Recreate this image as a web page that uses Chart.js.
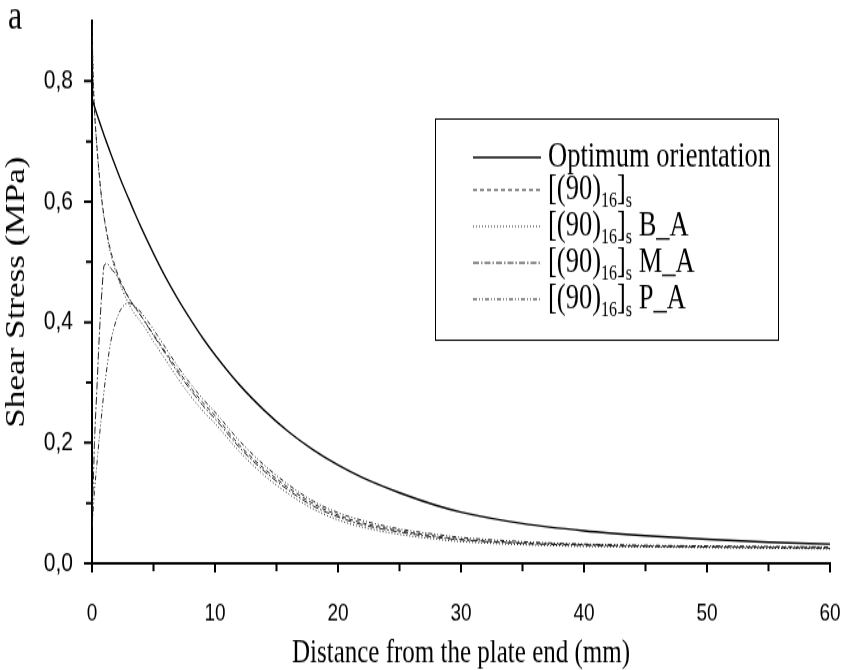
<!DOCTYPE html>
<html>
<head>
<meta charset="utf-8">
<script src="https://cdn.jsdelivr.net/npm/chart.js@4.4.1/dist/chart.umd.min.js"></script>
<style>
  body { margin: 0; background: #fff; }
</style>
</head>
<body>
<!-- the reference is stretched vertically, so the canvas is drawn at 846x515 and shown at 846x670 -->
<canvas id="grafico" width="846" height="515" style="display:block;width:846px;height:670px"></canvas>
<script>
// distancia a partir da extremidade da placa (mm)
const distance = [0, 0.1, 0.2, 0.4, 0.6, 0.8, 1, 1.25, 1.5, 2, 2.5, 3, 3.5, 4, 5, 6, 7, 8, 9, 10,
  12, 14, 16, 18, 20, 22, 25, 28, 30, 35, 40, 45, 50, 55, 60];

// tensao de corte (MPa)
const optimum = [0.77, 0.764, 0.758, 0.745, 0.733, 0.721, 0.709, 0.695, 0.681, 0.654, 0.628, 0.604, 0.58, 0.557, 0.514, 0.474, 0.438, 0.405, 0.374, 0.346,
  0.296, 0.254, 0.218, 0.188, 0.163, 0.142, 0.117, 0.096, 0.085, 0.066, 0.054, 0.046, 0.04, 0.035, 0.032];
const lam90 = [0.89, 0.8, 0.752, 0.692, 0.643, 0.603, 0.573, 0.544, 0.52, 0.485, 0.46, 0.44, 0.425, 0.41, 0.38, 0.35, 0.32, 0.292, 0.267, 0.245,
  0.196, 0.157, 0.125, 0.099, 0.08, 0.067, 0.054, 0.045, 0.04, 0.034, 0.031, 0.029, 0.028, 0.027, 0.026];
const lam90BA = [0.9, 0.81, 0.755, 0.69, 0.64, 0.6, 0.57, 0.54, 0.515, 0.48, 0.452, 0.43, 0.413, 0.4, 0.368, 0.337, 0.306, 0.278, 0.253, 0.232,
  0.185, 0.146, 0.115, 0.09, 0.072, 0.06, 0.048, 0.04, 0.036, 0.031, 0.028, 0.027, 0.026, 0.025, 0.024];
const lam90MA = [0.09, 0.13, 0.2, 0.29, 0.38, 0.45, 0.495, 0.497, 0.49, 0.478, 0.458, 0.44, 0.424, 0.41, 0.378, 0.347, 0.316, 0.288, 0.262, 0.24,
  0.192, 0.153, 0.121, 0.095, 0.077, 0.064, 0.052, 0.043, 0.039, 0.033, 0.03, 0.028, 0.027, 0.026, 0.025];
const lam90PA = [0.06, 0.09, 0.12, 0.165, 0.21, 0.25, 0.29, 0.33, 0.365, 0.405, 0.426, 0.432, 0.426, 0.416, 0.388, 0.357, 0.326, 0.298, 0.273, 0.251,
  0.203, 0.163, 0.13, 0.103, 0.084, 0.071, 0.057, 0.048, 0.043, 0.036, 0.032, 0.03, 0.029, 0.028, 0.027];

// marcas dos eixos
const xTickLabels = [0, 10, 20, 30, 40, 50, 60];
const xMinorTicks = [5, 15, 25, 35, 45, 55];
const yTickLabels = [0, 0.2, 0.4, 0.6, 0.8];
const yMinorTicks = [0.1, 0.3, 0.5, 0.7];

// legenda
const legendSuffix = ['Optimum orientation', '', ' B_A', ' M_A', ' P_A'];
const dashes = [[], [4, 3], [1, 2], [6, 2, 1.5, 2], [4, 2, 1, 2, 1, 2]];

const serif = '"Liberation Serif", "Times New Roman", serif';
const sans = '"Liberation Sans", Arial, sans-serif';

function points(values) {
  return distance.map((x, i) => ({ x: x, y: values[i] }));
}

function makeSet(label, values, i) {
  return {
    label: label,
    data: points(values),
    borderColor: i === 0 ? '#000' : '#222',
    borderWidth: i === 0 ? 1.4 : 1,
    borderDash: dashes[i],
    pointRadius: 0,
    cubicInterpolationMode: 'monotone',
    fill: false
  };
}

// desenha marcas, letra "a" e a legenda com indices
const extras = {
  id: 'extras',
  afterDraw(chart) {
    const ctx = chart.ctx;
    const xs = chart.scales.x, ys = chart.scales.y;
    ctx.save();
    ctx.strokeStyle = '#000';
    ctx.lineWidth = 2;
    ctx.beginPath();
    xTickLabels.forEach(v => { const p = xs.getPixelForValue(v); ctx.moveTo(p, ys.bottom); ctx.lineTo(p, ys.bottom + 7); });
    xMinorTicks.forEach(v => { const p = xs.getPixelForValue(v); ctx.moveTo(p, ys.bottom); ctx.lineTo(p, ys.bottom + 6); });
    yTickLabels.forEach(v => { const p = ys.getPixelForValue(v); ctx.moveTo(xs.left, p); ctx.lineTo(xs.left - 8, p); });
    yMinorTicks.forEach(v => { const p = ys.getPixelForValue(v); ctx.moveTo(xs.left, p); ctx.lineTo(xs.left - 6, p); });
    ctx.stroke();

    ctx.fillStyle = '#000';
    ctx.textBaseline = 'alphabetic';
    ctx.font = '32px ' + serif;
    ctx.fillText('a', 8, 22);

    // caixa da legenda
    ctx.lineWidth = 1;
    ctx.strokeRect(435.5, 91.5, 343, 170);
    const rows = [121, 146, 174, 202, 230];
    chart.data.datasets.forEach((ds, i) => {
      const y = rows[i];
      ctx.beginPath();
      ctx.setLineDash(dashes[i]);
      ctx.strokeStyle = ds.borderColor;
      ctx.lineWidth = ds.borderWidth;
      ctx.moveTo(473, y);
      ctx.lineTo(541, y);
      ctx.stroke();
      ctx.setLineDash([]);
      ctx.textBaseline = 'middle';
      let x = 548;
      if (i === 0) {
        ctx.font = '26.5px ' + serif;
        ctx.fillText(legendSuffix[i], x, y);
        return;
      }
      const parts = [['[(90)', 0], ['16', 1], [']', 0], ['s', 1], [legendSuffix[i], 0]];
      parts.forEach(([t, sub]) => {
        ctx.font = (sub ? '16px ' : '26.5px ') + serif;
        ctx.fillText(t, x, sub ? y + 9 : y);
        x += ctx.measureText(t).width;
      });
    });
    ctx.restore();
  }
};

const ctx = document.getElementById('grafico').getContext('2d');

const chart = new Chart(ctx, {
  type: 'line',
  data: {
    datasets: [
      makeSet('Optimum orientation', optimum, 0),
      makeSet('[(90)16]s', lam90, 1),
      makeSet('[(90)16]s B_A', lam90BA, 2),
      makeSet('[(90)16]s M_A', lam90MA, 3),
      makeSet('[(90)16]s P_A', lam90PA, 4)
    ]
  },
  options: {
    responsive: false,
    animation: false,
    devicePixelRatio: 1,
    layout: { padding: { left: 0, top: 16, right: 16, bottom: 0 } },
    plugins: { legend: { display: false }, tooltip: { enabled: false } },
    scales: {
      x: {
        type: 'linear',
        min: 0,
        max: 60,
        afterBuildTicks: s => { s.ticks = xTickLabels.map(v => ({ value: v })); },
        afterFit: s => { s.height = 82; s.paddingLeft = 0; s.paddingRight = 0; },
        grid: { display: false },
        border: { display: true, color: '#000', width: 2 },
        ticks: { color: '#000', padding: 19, maxRotation: 0, font: { family: sans, size: 19 } },
        title: {
          display: true,
          text: 'Distance from the plate end (mm)',
          color: '#000',
          font: { family: serif, size: 25, lineHeight: 1 },
          padding: { top: 0, bottom: 0 }
        }
      },
      y: {
        min: 0,
        max: 0.9,
        afterBuildTicks: s => { s.ticks = yTickLabels.map(v => ({ value: v })); },
        afterFit: s => { s.width = 92; s.paddingTop = 0; s.paddingBottom = 0; },
        grid: { display: false },
        border: { display: true, color: '#000', width: 2 },
        ticks: {
          color: '#000',
          padding: 11,
          font: { family: sans, size: 21 },
          callback: v => v.toFixed(1).replace('.', ',')
        },
        title: {
          display: true,
          text: 'Shear Stress (MPa)',
          color: '#000',
          font: { family: serif, size: 27, lineHeight: 1 },
          padding: { top: 3, bottom: 0 }
        }
      }
    }
  },
  plugins: [extras]
});
</script>
</body>
</html>
